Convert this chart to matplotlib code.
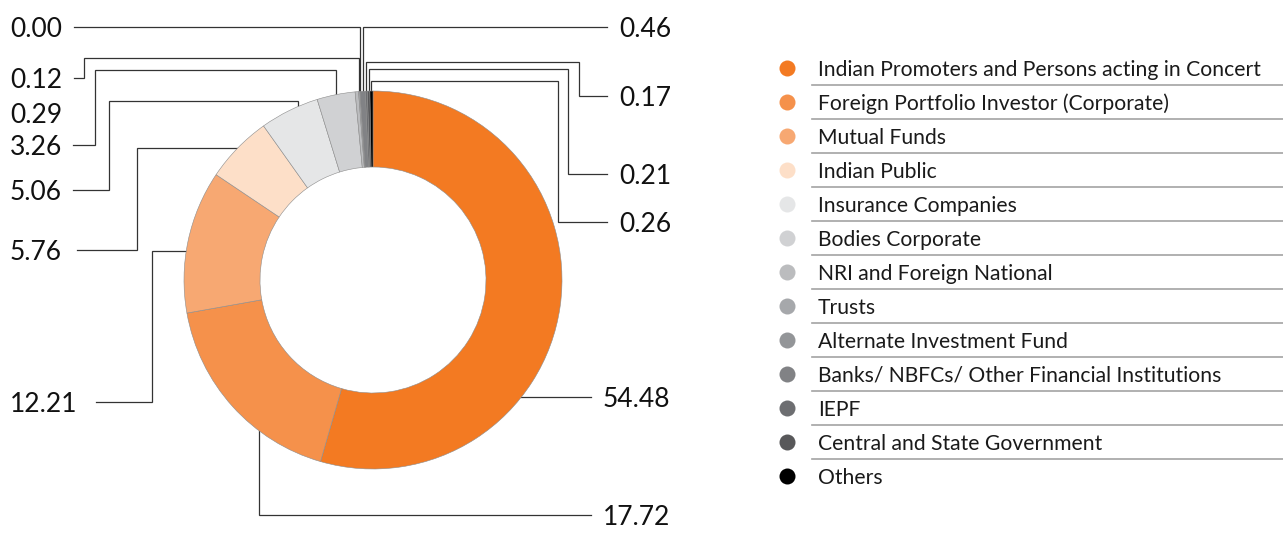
import numpy as np
import matplotlib.pyplot as plt

W, H = 1283, 551

categories = [
    "Indian Promoters and Persons acting in Concert",
    "Foreign Portfolio Investor (Corporate)",
    "Mutual Funds",
    "Indian Public",
    "Insurance Companies",
    "Bodies Corporate",
    "NRI and Foreign National",
    "Trusts",
    "Alternate Investment Fund",
    "Banks/ NBFCs/ Other Financial Institutions",
    "IEPF",
    "Central and State Government",
    "Others",
]
shares = [54.48, 17.72, 12.21, 5.76, 5.06, 3.26, 0.29, 0.12, 0.00, 0.46, 0.17, 0.21, 0.26]
labels = ["%.2f" % v for v in shares]
colors = ["#F37A22", "#F5914B", "#F7A872", "#FDDFC8", "#E5E6E7", "#D0D1D3",
          "#BBBCBE", "#A6A8AB", "#939598", "#818285", "#6D6E71", "#58585A", "#000000"]

# connector layout (pixel coords, y down): where in the slice the line starts,
# then the sequence of horizontal / vertical runs
anchor_frac = [0.654, 0.33, 0.43, 0.5, 0.66, 0.5, 0.5, 0.5, 0.5, 0.5, 0.5, 0.5, 0.5]
routes = [
    [("x", 591)],
    [("y", 515), ("x", 591)],
    [("x", 152), ("y", 402), ("x", 96)],
    [("x", 137), ("y", 250), ("x", 77)],
    [("y", 101), ("x", 109), ("y", 190), ("x", 73)],
    [("y", 70), ("x", 95), ("y", 145), ("x", 73)],
    None,
    [("y", 58), ("x", 84), ("y", 78), ("x", 74)],
    [("y", 27), ("x", 74)],
    [("y", 27), ("x", 607)],
    [("y", 62), ("x", 579), ("y", 96), ("x", 607)],
    [("y", 69), ("x", 568), ("y", 174), ("x", 607)],
    [("y", 81), ("x", 558), ("y", 222), ("x", 607)],
]
free_label_y = {6: 113}

plt.rcParams['font.family'] = ['Lato', 'DejaVu Sans']

fig = plt.figure(figsize=(W / 100, H / 100), dpi=100)
ax = fig.add_axes([0, 0, 1, 1])

cx, cy, R, ring = 373, 280, 189, 76
ax.pie(shares, colors=colors, startangle=90, counterclock=False,
       radius=R, center=(cx, H - cy),
       wedgeprops=dict(width=ring, edgecolor="#8c8c8c", linewidth=0.4))
ax.set_xlim(0, W)
ax.set_ylim(0, H)
ax.set_aspect("auto")
ax.axis("off")

NUM_FS = 19
num_shift = 9.8   # half digit height in px, so the line hits the middle of the digits


def num_text(x, y, s):
    ax.text(x, y - num_shift, s, fontsize=NUM_FS, ha="left", va="baseline", color="#111111")


total = sum(shares)
cum = np.concatenate([[0], np.cumsum(shares)])
for i, lab in enumerate(labels):
    if routes[i] is None:
        num_text(10, H - free_label_y[i], lab)
        continue
    a0 = 90 - 360 * cum[i] / total
    a1 = 90 - 360 * cum[i + 1] / total
    a = np.radians(a0 + anchor_frac[i] * (a1 - a0))
    pts = [(cx + R * np.cos(a), H - cy + R * np.sin(a))]
    for kind, v in routes[i]:
        px, py = pts[-1]
        pts.append((v, py) if kind == "x" else (px, H - v))
    xs, ys = zip(*pts)
    ax.plot(xs, ys, color="#333333", lw=0.9, solid_joinstyle="miter", zorder=0.5)
    ex, ey = pts[-1]
    if ex > cx:
        num_text(ex + 12, ey, lab)
    else:
        num_text(10, ey, lab)

# legend
row0, step = 68, 34
for j, (name, c) in enumerate(zip(categories, colors)):
    y = H - (row0 + j * step)
    ax.scatter([787], [y], s=(16 * 0.72) ** 2, color=c, linewidths=0)
    ax.text(818, y - 7.5, name, fontsize=15.2, ha="left", va="baseline", color="#1a1a1a")
    if j < len(categories) - 1:
        ax.plot([812, W], [y - 16.5, y - 16.5], color="#a3a3a3", lw=1.2)

fig.savefig("out.png", dpi=100)
